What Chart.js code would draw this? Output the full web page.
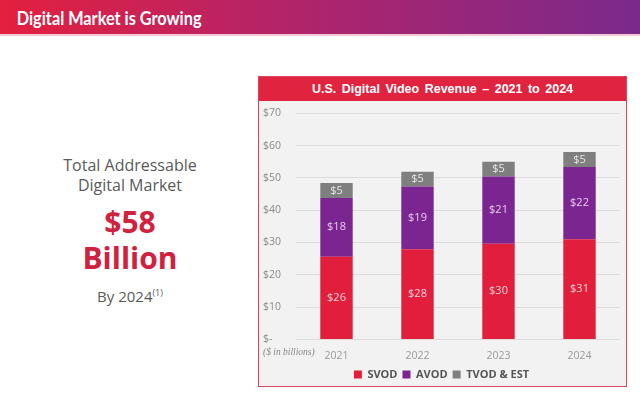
<!DOCTYPE html>
<html>
<head>
<meta charset="utf-8">
<script src="https://cdn.jsdelivr.net/npm/chart.js@4"></script>
<style>
  body { margin: 0; width: 640px; height: 400px; background: #fff; font-family: "Open Sans", sans-serif; position: relative; overflow: hidden; }
  .header { position: absolute; left: 0; top: 0; width: 640px; height: 34px; background: linear-gradient(90deg, #e3203f 0%, #b2246a 45%, #7a2a8b 100%); border-bottom: 2px solid #f3c9d6; }
  .header h1 { margin: 0; color: #fff; font-family: Lato, sans-serif; font-size: 18.5px; font-weight: 700; line-height: 36px; padding-left: 19px; transform: scaleX(0.88); transform-origin: left center; white-space: nowrap; }
  .left { position: absolute; left: 40px; width: 180px; text-align: center; color: #5a5a5a; }
  .box { position: absolute; left: 258px; top: 76px; width: 367px; height: 309px; border: 1px solid #d9475e; background: #f2f2f2; }
  .boxtitle { height: 24px; background: #e0243f; color: #fff; font-family: "Liberation Sans", Arial, sans-serif; font-weight: 700; font-size: 12.5px; text-align: center; line-height: 24px; word-spacing: 2px; }
  .chartwrap { position: absolute; left: 0; top: 24px; width: 367px; height: 289px; }
  .unit { position: absolute; left: 4px; font-family: "Liberation Serif", serif; font-style: italic; font-size: 9.5px; color: #888; }
</style>
</head>
<body>
<div class="header"><h1>Digital Market is Growing</h1></div>
<div class="left" style="top:155px;font-size:16px;line-height:20px;">Total Addressable<br>Digital Market</div>
<div class="left" style="top:204px;font-size:30px;font-weight:700;color:#d0213f;line-height:36px;">$58<br>Billion</div>
<div class="left" style="top:286px;font-size:15px;">By 2024<sup style="font-size:9px;">(1)</sup></div>
<div class="box">
  <div class="boxtitle">U.S. Digital Video Revenue – 2021 to 2024</div>
  <div class="chartwrap"><canvas id="chart"></canvas></div>
  <div class="unit" style="top:270px;">($ in billions)</div>
</div>
<script>
const years = ['2021', '2022', '2023', '2024'];
const svod = [25.6, 27.9, 29.6, 31.0];
const avod = [18.2, 19.4, 20.8, 22.4];
const tvod = [4.6, 4.6, 4.6, 4.6];
const yTicks = [0, 10, 20, 30, 40, 50, 60, 70];

const barLabels = {
    id: 'barLabels',
    afterDatasetsDraw(chart) {
        const c = chart.ctx;
        c.save();
        c.font = '11px "Open Sans", sans-serif';
        c.textAlign = 'center';
        c.textBaseline = 'middle';
        chart.data.datasets.forEach(function (ds, i) {
            chart.getDatasetMeta(i).data.forEach(function (bar, j) {
                const mid = (bar.y + bar.base) / 2;
                c.fillStyle = i === 0 ? '#f8d0d8' : (i === 1 ? '#ecc8f2' : '#e8e8e8');
                c.fillText('$' + Math.round(ds.data[j]), bar.x, mid);
            });
        });
        c.restore();
    }
};

new Chart(document.getElementById('chart'), {
    type: 'bar',
    data: {
        labels: years,
        datasets: [
            { label: 'SVOD', data: svod, backgroundColor: '#e11f3d' },
            { label: 'AVOD', data: avod, backgroundColor: '#7b2590' },
            { label: 'TVOD & EST', data: tvod, backgroundColor: '#7f7f7f' }
        ]
    },
    options: {
        responsive: true,
        maintainAspectRatio: false,
        animation: false,
        layout: { padding: { left: 4, right: 6, top: 5, bottom: 0 } },
        datasets: { bar: { categoryPercentage: 0.8, barPercentage: 0.5 } },
        plugins: {
            legend: {
                position: 'bottom',
                labels: {
                    boxWidth: 8, boxHeight: 8, padding: 5,
                    color: '#555',
                    font: { family: '"Open Sans", sans-serif', size: 11, weight: 'bold' }
                }
            },
            tooltip: { enabled: false }
        },
        scales: {
            x: {
                stacked: true,
                grid: { display: false },
                border: { display: false },
                ticks: { padding: 2, color: '#999', font: { family: '"Open Sans", sans-serif', size: 10.5 } }
            },
            y: {
                stacked: true,
                min: 0, max: 70,
                afterBuildTicks: function (axis) { axis.ticks = yTicks.map(function (v) { return { value: v }; }); },
                afterFit: function (axis) { axis.width = 33; },
                grid: { color: '#dcdcdc', drawTicks: false },
                border: { display: false },
                ticks: {
                    crossAlign: 'far', padding: 6,
                    color: '#8a8a8a',
                    font: { family: '"Open Sans", sans-serif', size: 10.5 },
                    callback: function (v) { return v === 0 ? '$-' : '$' + v; }
                }
            }
        }
    },
    plugins: [barLabels]
});
</script>
</body>
</html>
